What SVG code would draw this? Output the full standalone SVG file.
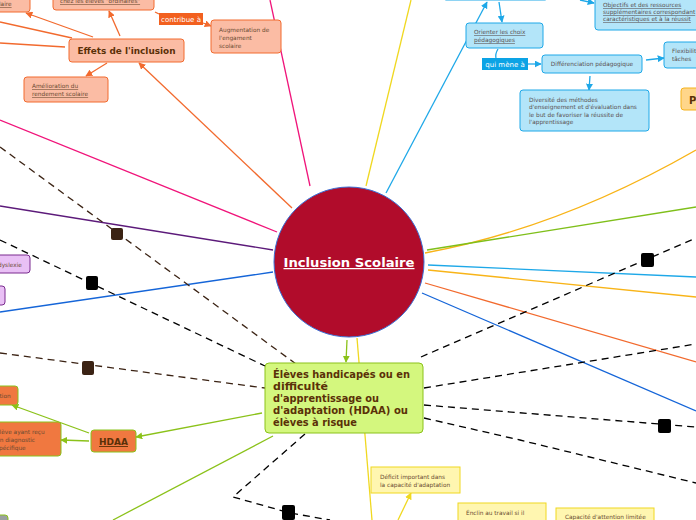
<svg xmlns="http://www.w3.org/2000/svg" width="696" height="520" viewBox="0 0 696 520">
<defs>
<marker id="aO" viewBox="0 0 10 10" refX="9" refY="5" markerWidth="7" markerHeight="7" orient="auto" markerUnits="userSpaceOnUse"><path d="M0,0 L10,5 L0,10 z" fill="#f26a2e"/></marker>
<marker id="aB" viewBox="0 0 10 10" refX="9" refY="5" markerWidth="7" markerHeight="7" orient="auto" markerUnits="userSpaceOnUse"><path d="M0,0 L10,5 L0,10 z" fill="#1ea8e8"/></marker>
<marker id="aG" viewBox="0 0 10 10" refX="9" refY="5" markerWidth="7" markerHeight="7" orient="auto" markerUnits="userSpaceOnUse"><path d="M0,0 L10,5 L0,10 z" fill="#8bc21a"/></marker>
<marker id="aY" viewBox="0 0 10 10" refX="9" refY="5" markerWidth="7" markerHeight="7" orient="auto" markerUnits="userSpaceOnUse"><path d="M0,0 L10,5 L0,10 z" fill="#f0d820"/></marker>
</defs>
<style>
text{font-family:"DejaVu Sans","Liberation Sans",sans-serif}
.ln{fill:none;stroke-width:1.3}
.dash{fill:none;stroke-width:1.3;stroke-dasharray:7,5}
.o{stroke:#f26a2e}
.b{stroke:#1ea8e8}
.g{stroke:#8bc21a}
.y{stroke:#f0d820}
.nO{fill:#fbbca4;stroke:#f26a2e;stroke-width:1}
.nB{fill:#b3e5f9;stroke:#1ea8e8;stroke-width:1}
.nY{fill:#fff6b0;stroke:#f0d820;stroke-width:1}
.nP{fill:#e9c0f5;stroke:#7a2b8f;stroke-width:1}
.nH{fill:#f07840;stroke:#8bc21a;stroke-width:1}
.sm{font-size:5.8px;fill:#6a4a32}
.smb{font-size:5.8px;fill:#5a5050}
.u{text-decoration:underline}
.lbl{font-size:7px;fill:#fff}
.sq{stroke:none}
</style>

<g id="connectors">
<line class="ln" stroke="#f0147a" x1="0" y1="120" x2="277" y2="232"/>
<line class="ln" stroke="#f0147a" x1="270" y1="0" x2="310" y2="186"/>
<line class="ln" stroke="#5c1a7a" x1="0" y1="206" x2="273" y2="250"/>
<line class="ln" stroke="#1565d8" x1="0" y1="312" x2="273" y2="272"/>
<line class="ln y" x1="366" y1="186" x2="411" y2="0"/>
<line class="ln y" x1="357" y1="338" x2="372" y2="520"/>
<line class="dash" stroke="#3b2314" x1="0" y1="147" x2="296" y2="364"/>
<line class="dash" stroke="#000" x1="0" y1="240" x2="265" y2="366"/>
<line class="dash" stroke="#3b2314" x1="0" y1="353" x2="265" y2="388"/>
<path class="ln" stroke="#f8b418" d="M425,253 Q560,228 696,150"/>
<line class="ln" stroke="#7fbf1a" x1="427" y1="250" x2="696" y2="207"/>
<line class="ln b" x1="428" y1="265" x2="696" y2="277"/>
<line class="ln" stroke="#f8b418" x1="428" y1="270" x2="696" y2="297"/>
<line class="ln o" x1="425" y1="283" x2="696" y2="362"/>
<line class="ln" stroke="#1565d8" x1="422" y1="293" x2="696" y2="411"/>
<line class="dash" stroke="#000" x1="421" y1="357" x2="696" y2="238"/>
<line class="dash" stroke="#000" x1="424" y1="388" x2="696" y2="344"/>
<line class="dash" stroke="#000" x1="424" y1="405" x2="696" y2="427"/>
<path class="dash" stroke="#000" d="M424,418 L520,440 L696,483"/>
<path class="dash" stroke="#000" d="M305,434 L233,497 L290,513 L330,520"/>
<line class="ln o" x1="292" y1="208" x2="139" y2="63" marker-end="url(#aO)"/>
<line class="ln o" x1="72" y1="38" x2="0" y2="22"/>
<line class="ln o" x1="65" y1="47" x2="0" y2="43"/>
<line class="ln o" x1="93" y1="37" x2="26" y2="13" marker-end="url(#aO)"/>
<line class="ln o" x1="120" y1="36" x2="109" y2="11" marker-end="url(#aO)"/>
<line class="ln o" x1="107" y1="63" x2="86" y2="76" marker-end="url(#aO)"/>
<line class="ln o" x1="155" y1="12" x2="159" y2="14"/>
<line class="ln o" x1="203" y1="23" x2="211" y2="26" marker-end="url(#aO)"/>
<line class="ln b" x1="386" y1="193" x2="487" y2="2" marker-end="url(#aB)"/>
<line class="ln b" x1="499" y1="2" x2="502" y2="22" marker-end="url(#aB)"/>
<line class="ln b" x1="580" y1="0" x2="594" y2="3" marker-end="url(#aB)"/>
<path class="ln b" d="M498,49 Q495,54 496,58"/>
<line class="ln b" x1="528" y1="64" x2="541" y2="64" marker-end="url(#aB)"/>
<line class="ln b" x1="646" y1="60" x2="664" y2="58" marker-end="url(#aB)"/>
<line class="ln b" x1="590" y1="76" x2="589" y2="90" marker-end="url(#aB)"/>
<line class="ln g" x1="347" y1="340" x2="346" y2="362" marker-end="url(#aG)"/>
<line class="ln g" x1="262" y1="413" x2="136" y2="437" marker-end="url(#aG)"/>
<line class="ln g" x1="89" y1="441" x2="61" y2="440" marker-end="url(#aG)"/>
<line class="ln g" x1="89" y1="433" x2="12" y2="405" marker-end="url(#aG)"/>
<line class="ln g" x1="273" y1="436" x2="113" y2="520"/>
<line class="ln y" x1="398" y1="520" x2="411" y2="493" marker-end="url(#aY)"/>
<rect class="sq" x="111" y="228" width="12" height="12" rx="2" fill="#3b2314"/>
<rect class="sq" x="86" y="276" width="12" height="14" rx="2" fill="#000"/>
<rect class="sq" x="82" y="361" width="12" height="14" rx="2" fill="#3b2314"/>
<rect class="sq" x="641" y="253" width="13" height="14" rx="2" fill="#000"/>
<rect class="sq" x="658" y="419" width="13" height="14" rx="2" fill="#000"/>
<rect class="sq" x="282" y="505" width="13" height="15" rx="2" fill="#000"/>
</g>

<g id="center">
<circle cx="349" cy="262" r="75" fill="#b10c2b" stroke="#3a6fd6" stroke-width="1"/>
<text x="349" y="267" text-anchor="middle" font-size="12.5" font-weight="bold" fill="#fff" class="u" textLength="131" lengthAdjust="spacingAndGlyphs">Inclusion Scolaire</text>
</g>

<g id="hdaa-main">
<rect x="265" y="363" width="158" height="70" rx="4" fill="#d4f77e" stroke="#8bc21a" stroke-width="1"/>
<g font-size="11" font-weight="bold" fill="#5a3008">
<text x="273" y="378" textLength="137" lengthAdjust="spacingAndGlyphs">Élèves handicapés ou en</text>
<text x="273" y="390" textLength="55" lengthAdjust="spacingAndGlyphs">difficulté</text>
<text x="273" y="402" textLength="106" lengthAdjust="spacingAndGlyphs">d'apprentissage ou</text>
<text x="273" y="414" textLength="135" lengthAdjust="spacingAndGlyphs">d'adaptation (HDAA) ou</text>
<text x="273" y="426" textLength="84" lengthAdjust="spacingAndGlyphs">élèves à risque</text>
</g>
</g>

<g id="effets">
<rect class="nO" x="69" y="39" width="115" height="23" rx="3"/>
<text x="126.5" y="54" text-anchor="middle" font-size="9.5" font-weight="bold" fill="#5a3008" textLength="98" lengthAdjust="spacingAndGlyphs">Effets de l'inclusion</text>
</g>
<g id="node-scolaire-top">
<rect class="nO" x="-6" y="-6" width="36" height="18" rx="3"/>
<text class="sm u" x="-1" y="6">laire</text>
</g>
<g id="node-ordinaires">
<rect class="nO" x="53" y="-6" width="101" height="16" rx="3"/>
<text class="sm u" x="60" y="3">chez les élèves "ordinaires"</text>
</g>
<g id="label-contribue">
<rect x="159" y="13" width="44" height="12" fill="#f2601f"/>
<text class="lbl" x="181" y="21.5" text-anchor="middle" font-size="6.5">contribue à</text>
</g>
<g id="node-augmentation">
<rect class="nO" x="211" y="20" width="70" height="33" rx="3"/>
<text class="sm" x="219" y="32">Augmentation de</text>
<text class="sm" x="219" y="40">l'engament</text>
<text class="sm" x="219" y="48">scolaire</text>
</g>
<g id="node-amelioration">
<rect class="nO" x="24" y="77" width="84" height="25" rx="3"/>
<text class="sm u" x="32" y="88">Amélioration du</text>
<text class="sm u" x="32" y="96">rendement scolaire</text>
</g>

<g id="node-blue-top">
<rect class="nB" x="443" y="-10" width="105" height="10" rx="3"/>
</g>
<g id="node-objectifs">
<rect class="nB" x="595" y="-6" width="110" height="36" rx="3"/>
<text class="smb u" x="603" y="7">Objectifs et des ressources</text>
<text class="smb u" x="603" y="14">supplémentaires correspondant</text>
<text class="smb u" x="603" y="21">caractéristiques et à la réussit</text>
</g>
<g id="node-orienter">
<rect class="nB" x="466" y="23" width="77" height="25" rx="3"/>
<text class="smb u" x="474" y="34">Orienter les choix</text>
<text class="smb u" x="474" y="42">pédagogiques</text>
</g>
<g id="label-mene">
<rect x="482" y="58" width="46" height="12" fill="#0ca3e5"/>
<text class="lbl" x="505" y="66.5" text-anchor="middle" font-size="6.5">qui mène à</text>
</g>
<g id="node-differenciation">
<rect class="nB" x="542" y="55" width="100" height="18" rx="3"/>
<text class="smb" x="592" y="66" text-anchor="middle">Différenciation pédagogique</text>
</g>
<g id="node-flexibilite">
<rect class="nB" x="664" y="42" width="40" height="26" rx="3"/>
<text class="smb" x="672" y="53">Flexibilité</text>
<text class="smb" x="672" y="61">tâches</text>
</g>
<g id="node-diversite">
<rect class="nB" x="520" y="90" width="129" height="41" rx="3"/>
<text class="smb" x="529" y="102">Diversité des méthodes</text>
<text class="smb" x="529" y="109">d'enseignement et d'évaluation dans</text>
<text class="smb" x="529" y="117">le but de favoriser la réussite de</text>
<text class="smb" x="529" y="124">l'apprentissage</text>
</g>
<g id="node-p">
<rect x="681" y="88" width="22" height="22" rx="3" fill="#ffd68a" stroke="#f5b21b" stroke-width="1"/>
<text x="689" y="104" font-size="10" font-weight="bold" fill="#5a3008">P</text>
</g>

<g id="node-dyslexie">
<rect class="nP" x="-6" y="255" width="36" height="18" rx="3"/>
<text class="sm" x="-2" y="267">dyslexie</text>
</g>
<g id="node-purple2">
<rect class="nP" x="-6" y="286" width="11" height="19" rx="3"/>
</g>

<g id="node-hdaa">
<rect class="nH" x="91" y="430" width="45" height="22" rx="3"/>
<text x="113.5" y="445" text-anchor="middle" font-size="9" font-weight="bold" fill="#5a3008" class="u">HDAA</text>
</g>
<g id="node-tion">
<rect class="nH" x="-6" y="386" width="24" height="19" rx="3"/>
<text class="sm" x="-4" y="398">ation</text>
</g>
<g id="node-eleve">
<rect class="nH" x="-6" y="422" width="67" height="34" rx="3"/>
<text class="sm" x="-4" y="434">élève ayant reçu</text>
<text class="sm" x="-4" y="442">un diagnostic</text>
<text class="sm" x="-4" y="450">spécifique</text>
</g>
<g id="node-gray">
<rect x="-6" y="515" width="14" height="12" rx="3" fill="#9aa0a0" stroke="#8bc21a" stroke-width="1"/>
</g>

<g id="node-deficit">
<rect class="nY" x="371" y="467" width="89" height="26"/>
<text class="sm" x="380" y="479">Déficit important dans</text>
<text class="sm" x="380" y="487">la capacité d'adaptation</text>
</g>
<g id="node-enclin">
<rect class="nY" x="458" y="503" width="88" height="24"/>
<text class="sm" x="466" y="515">Énclin au travail si il</text>
</g>
<g id="node-capacite">
<rect class="nY" x="556" y="508" width="98" height="18"/>
<text class="sm" x="565" y="519">Capacité d'attention limitée</text>
</g>
</svg>
